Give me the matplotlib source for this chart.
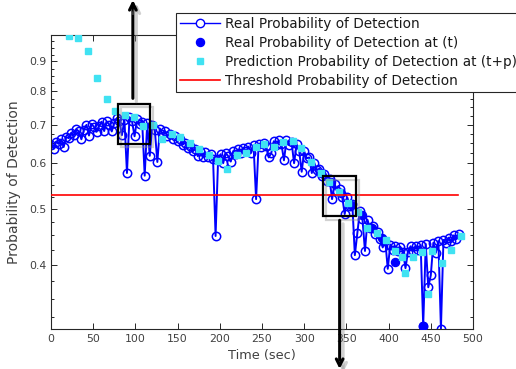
import numpy as np
import matplotlib

matplotlib.use("Agg")
import matplotlib.pyplot as plt
from matplotlib import patheffects as pe
from matplotlib.lines import Line2D
from matplotlib.patches import Rectangle
from matplotlib.ticker import FixedLocator, FixedFormatter, NullFormatter

# sampled detection probability (one sample every 3 s)
time_s = np.arange(0, 484, 3)
p_real = [
    0.646, 0.636, 0.654, 0.648, 0.660, 0.640, 0.666, 0.663, 0.677, 0.671,
    0.687, 0.681, 0.660, 0.685, 0.699, 0.670, 0.702, 0.693, 0.680, 0.696,
    0.708, 0.682, 0.709, 0.700, 0.681, 0.705, 0.718, 0.711, 0.671, 0.713,
    0.577, 0.721, 0.709, 0.668, 0.715, 0.702, 0.708, 0.571, 0.703, 0.618,
    0.699, 0.685, 0.603, 0.689, 0.675, 0.682, 0.668, 0.675, 0.662, 0.668,
    0.655, 0.661, 0.646, 0.651, 0.637, 0.643, 0.629, 0.635, 0.617, 0.631,
    0.614, 0.627, 0.615, 0.623, 0.611, 0.449, 0.610, 0.622, 0.600, 0.625,
    0.617, 0.604, 0.630, 0.622, 0.634, 0.626, 0.638, 0.629, 0.641, 0.625,
    0.644, 0.520, 0.647, 0.639, 0.650, 0.642, 0.614, 0.625, 0.655, 0.646,
    0.657, 0.648, 0.607, 0.657, 0.645, 0.653, 0.600, 0.647, 0.631, 0.580,
    0.629, 0.612, 0.614, 0.577, 0.601, 0.584, 0.587, 0.571, 0.575, 0.560,
    0.564, 0.520, 0.553, 0.537, 0.541, 0.525, 0.490, 0.524, 0.507, 0.511,
    0.416, 0.454, 0.497, 0.481, 0.423, 0.479, 0.463, 0.467, 0.452, 0.457,
    0.443, 0.429, 0.441, 0.394, 0.434, 0.424, 0.431, 0.423, 0.430, 0.422,
    0.395, 0.422, 0.431, 0.423, 0.432, 0.425, 0.433, 0.314, 0.435, 0.366,
    0.384, 0.437, 0.420, 0.440, 0.310, 0.442, 0.436, 0.446, 0.440, 0.450,
    0.444, 0.453,
]

# real probability at the prediction instants
t_now = [320, 332, 344, 356, 368, 380, 392, 408, 441]
p_now = [0.576, 0.556, 0.532, 0.508, 0.488, 0.464, 0.445, 0.405, 0.314]

# predicted probability at (t+p)
t_pred = [21, 32, 44, 55, 66, 76, 88, 98, 109, 121, 132, 143, 153, 165, 175,
          187, 198, 209, 220, 231, 243, 252, 264, 275, 287, 296, 308, 320, 329,
          341, 352, 364, 374, 386, 397, 408, 416, 419, 429, 440, 447, 451, 463,
          474, 486]
p_pred = [0.997, 0.990, 0.939, 0.843, 0.776, 0.739, 0.728, 0.722, 0.696, 0.699,
          0.661, 0.674, 0.666, 0.651, 0.636, 0.620, 0.606, 0.587, 0.620, 0.625,
          0.640, 0.648, 0.640, 0.653, 0.656, 0.638, 0.603, 0.577, 0.557, 0.535,
          0.512, 0.494, 0.464, 0.454, 0.442, 0.423, 0.413, 0.387, 0.413, 0.421,
          0.356, 0.423, 0.403, 0.425, 0.449]

threshold = 0.529
t_span = [0, 482]

y_ticks = [0.4, 0.5, 0.6, 0.7, 0.8, 0.9]
x_ticks = list(range(0, 501, 50))

# zoom boxes (time range, probability range) and arrow x position
boxes = [((79, 117), (0.648, 0.760), 97), ((322, 361), (0.486, 0.570), 342)]

BLUE = "#0000FF"
CYAN = "#40E2F2"
AXIS = "#262626"

plt.rcParams["font.family"] = ["DejaVu Sans"]

fig = plt.figure(figsize=(5.16, 3.69), dpi=100)
ax = fig.add_axes([51 / 516, 1 - 329 / 369, 422 / 516, 294 / 369])

ax.plot(time_s, p_real, "-o", color=BLUE, lw=1.4, ms=6.0, mfc="none",
        mec=BLUE, mew=1.1, zorder=2)
ax.plot(t_now, p_now, "o", color=BLUE, ms=5.8, zorder=3)
ax.plot(t_pred, p_pred, "s", color=CYAN, ms=4.2, mec=CYAN, zorder=4)
ax.plot(t_span, [threshold, threshold], color="#FF0000", lw=1.2, zorder=5)

ax.set_yscale("log")
ax.set_xlim(0, 500)
ax.set_ylim(0.31, 1.0)
ax.yaxis.set_major_locator(FixedLocator(y_ticks))
ax.yaxis.set_major_formatter(FixedFormatter([f"{v:.1f}" for v in y_ticks]))
ax.yaxis.set_minor_locator(FixedLocator(np.arange(0.325, 1.0, 0.025)))
ax.yaxis.set_minor_formatter(NullFormatter())
ax.set_xticks(x_ticks)

ax.tick_params(which="both", direction="in", top=True, right=True,
               colors=AXIS, labelcolor="#404040", labelsize=7.8, width=0.7)
ax.tick_params(which="major", length=4)
ax.tick_params(which="minor", length=2)
for sp in ax.spines.values():
    sp.set_color(AXIS)
    sp.set_linewidth(0.8)

ax.set_xlabel("Time (sec)", fontsize=9.3, color="#404040", labelpad=4)
ax.set_ylabel("Probability of Detection", fontsize=10, color="#404040", labelpad=6)

shadow = [pe.SimpleLineShadow(offset=(2.5, -2.5), shadow_color="0.55", alpha=0.4), pe.Normal()]

for (t0, t1), (p0, p1), tx in boxes:
    rect = Rectangle((t0, p0), t1 - t0, p1 - p0, fill=False, ec="black",
                     lw=1.6, zorder=6)
    rect.set_path_effects(shadow)
    ax.add_patch(rect)

# arrows leading out of the zoom boxes
a1 = ax.annotate("", xy=(boxes[0][2], 1.0), xycoords=("data", "figure fraction"),
                 xytext=(boxes[0][2], 0.777), textcoords="data",
                 arrowprops=dict(arrowstyle="->", color="black", lw=2.2,
                                 shrinkA=0, shrinkB=0, mutation_scale=12),
                 annotation_clip=False, zorder=7)
a2 = ax.annotate("", xy=(boxes[1][2], 0.0), xycoords=("data", "figure fraction"),
                 xytext=(boxes[1][2], 0.478), textcoords="data",
                 arrowprops=dict(arrowstyle="->", color="black", lw=2.2,
                                 shrinkA=0, shrinkB=0, mutation_scale=12),
                 annotation_clip=False, zorder=7)
for a in (a1, a2):
    a.arrow_patch.set_path_effects(shadow)

handles = [
    Line2D([], [], color=BLUE, lw=1.0, marker="o", ms=6.0, mfc="white", mec=BLUE),
    Line2D([], [], ls="none", marker="o", ms=5.8, color=BLUE),
    Line2D([], [], ls="none", marker="s", ms=4.2, color=CYAN),
    Line2D([], [], color="#FF0000", lw=1.2),
]
labels = [
    "Real Probability of Detection",
    "Real Probability of Detection at (t)",
    "Prediction Probability of Detection at (t+p)",
    "Threshold Probability of Detection",
]
leg = fig.legend(handles, labels, loc="upper left",
                 bbox_to_anchor=(176 / 516, 1 - 13 / 369),
                 bbox_transform=fig.transFigure, fontsize=9.8,
                 frameon=True, fancybox=False, framealpha=1.0,
                 edgecolor=AXIS, handlelength=2.9, handletextpad=0.4,
                 labelspacing=0.36, borderpad=0.3, borderaxespad=0)
leg.get_frame().set_linewidth(0.8)
leg.set_zorder(10)
for txt in leg.get_texts():
    txt.set_color("#1a1a1a")

fig.savefig("out.png", dpi=100)
